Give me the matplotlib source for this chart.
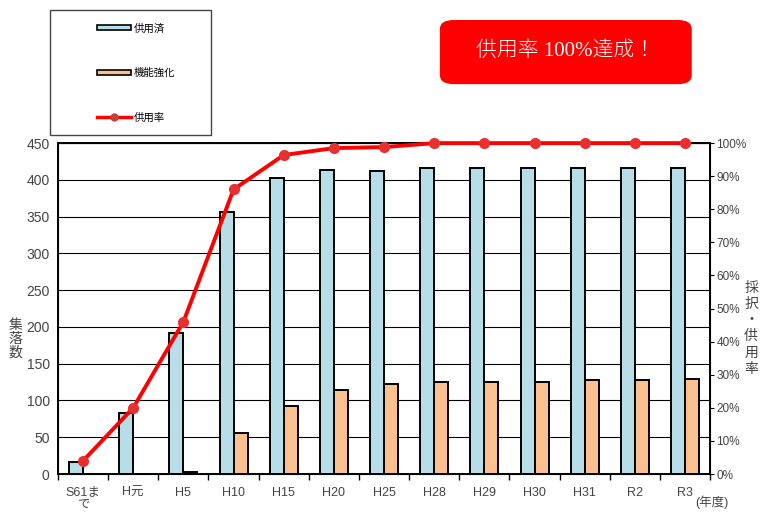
import matplotlib as mpl
mpl.use('Agg')
import matplotlib.pyplot as plt
from matplotlib.patches import Patch, Rectangle, FancyBboxPatch
from matplotlib.lines import Line2D
from matplotlib.ticker import FuncFormatter
import numpy as np

plt.rcParams['font.family'] = ['Liberation Sans', 'Noto Sans CJK JP']

nendo = ['S61ま\nで', 'H元', 'H5', 'H10', 'H15', 'H20', 'H25', 'H28', 'H29', 'H30', 'H31', 'R2', 'R3']
kyoyozumi = [17, 83, 192, 357, 402, 413, 412, 416, 416, 416, 416, 416, 416]
kinou_kyoka = [0, 0, 3, 56, 93, 114, 123, 125, 125, 125, 128, 128, 129]
kyoyoritsu = [0.04, 0.20, 0.46, 0.86, 0.964, 0.985, 0.988, 1.0, 1.0, 1.0, 1.0, 1.0, 1.0]

fig = plt.figure(figsize=(7.61, 5.13), dpi=100)
ax = fig.add_axes([0.0762, 0.076, 0.857, 0.645])
ax2 = ax.twinx()

x = np.arange(len(nendo))
w = 0.28
ax.bar(x - w, kyoyozumi, width=w, align='edge', color='#B7DDE8', edgecolor='black', linewidth=1.4, zorder=2)
ax.bar(x, kinou_kyoka, width=w, align='edge', color='#FAC090', edgecolor='black', linewidth=1.4, zorder=2)

ax.set_xlim(-0.5, len(nendo) - 0.5)
ax.set_ylim(0, 450)
ax.set_yticks(range(0, 451, 50))
ax.yaxis.grid(True, color='black', linewidth=0.8)
ax.set_axisbelow(True)
ax.tick_params(axis='y', length=0, labelsize=10, colors='#444444', pad=6)

ax.set_xticks(x)
ax.set_xticklabels(nendo, fontsize=9, color='#444444', linespacing=1.05)
ax.set_xticks(np.arange(-0.5, len(nendo)), minor=True)
ax.tick_params(axis='x', which='major', length=0, pad=9)
ax.tick_params(axis='x', which='minor', length=4, direction='out', width=1)

for s in ax.spines.values():
    s.set_linewidth(1.4)

ax2.plot(x, kyoyoritsu, color='#FF0000', linewidth=2.8, marker='o', markersize=7,
         markerfacecolor='#E83030', markeredgecolor='#E83030', zorder=5, clip_on=False)
ax2.set_ylim(0, 1.0)
ax2.set_yticks(np.arange(0, 1.01, 0.1))
ax2.yaxis.set_major_formatter(FuncFormatter(lambda v, p: '%d%%' % round(v * 100)))
ax2.tick_params(axis='y', length=3, direction='out', pad=1.5, labelsize=8.5, labelcolor='#444444', color='black')

fig.text(0.02, 0.34, '集\n落\n数', fontsize=10, color='#444444', ha='center', va='center', linespacing=1.0)
fig.text(0.987, 0.36, '採\n択\n・\n供\n用\n率', fontsize=10, color='#444444', ha='center', va='center', linespacing=1.2)
fig.text(0.936, 0.008, '(年度)', fontsize=9, color='#444444', ha='center', va='bottom')

# 凡例
fig.patches.append(Rectangle((0.0657, 0.737), 0.2113, 0.2435, transform=fig.transFigure,
                             facecolor='white', edgecolor='#444444', linewidth=1.0))
handles = [Patch(facecolor='#B7DDE8', edgecolor='black', linewidth=1.2),
           Patch(facecolor='#FAC090', edgecolor='black', linewidth=1.2),
           Line2D([0], [0], color='#FF0000', linewidth=2.5, marker='o', markersize=5,
                  markerfacecolor='#C04040', markeredgecolor='#C04040')]
fig.legend(handles, ['供用済', '機能強化', '供用率'], loc='center left', bbox_to_anchor=(0.115, 0.858),
           frameon=False, fontsize=7.5, handlelength=3.3, handleheight=0.4, handletextpad=0.2,
           labelspacing=3.3)

# 赤いボックス
fig.patches.append(FancyBboxPatch((0.578, 0.836), 0.331, 0.125, transform=fig.transFigure,
                                  boxstyle='round,pad=0,rounding_size=0.018',
                                  facecolor='#FF0000', edgecolor='none'))
fig.text(0.7435, 0.9, '供用率 100%達成！', fontsize=15, color='white', ha='center', va='center',
         family=['Liberation Serif', 'Noto Sans CJK JP'], weight='light')

fig.savefig('out.png', dpi=100)
